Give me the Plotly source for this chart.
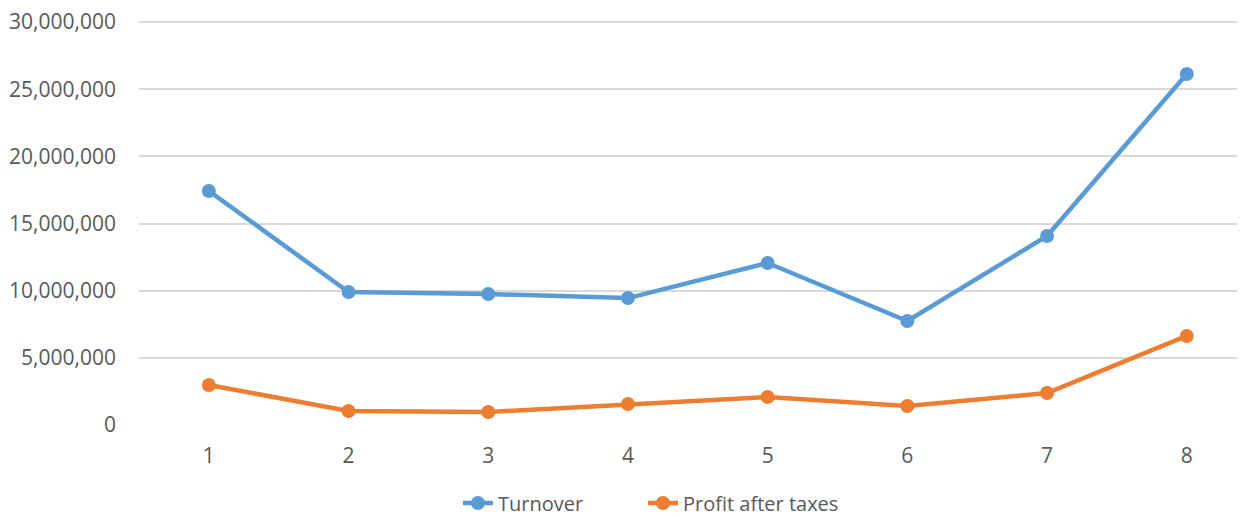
import plotly.graph_objects as go

periods = [1, 2, 3, 4, 5, 6, 7, 8]
turnover = [17420000, 9900000, 9750000, 9450000, 12060000, 7740000, 14070000, 26130000]
profit = [2980000, 1040000, 970000, 1560000, 2080000, 1410000, 2380000, 6630000]
y_ticks = [0, 5000000, 10000000, 15000000, 20000000, 25000000, 30000000]

FONT = "Open Sans"
TXT = "#595959"

fig = go.Figure()
fig.add_trace(go.Scatter(x=periods, y=turnover, name="Turnover", mode="lines+markers",
                         line=dict(color="#5B9BD5", width=4.5),
                         marker=dict(size=14, color="#5B9BD5"), legend="legend"))
fig.add_trace(go.Scatter(x=periods, y=profit, name="Profit after taxes", mode="lines+markers",
                         line=dict(color="#ED7D31", width=4.5),
                         marker=dict(size=14, color="#ED7D31"), legend="legend2"))

leg_common = dict(orientation="h", xanchor="left", y=-0.1926, yanchor="middle",
                  font=dict(family=FONT, size=20, color=TXT), bgcolor="rgba(0,0,0,0)")

fig.update_layout(
    width=1237, height=509,
    margin=dict(l=131, r=0, t=12, b=92, pad=0, autoexpand=False),
    paper_bgcolor="white", plot_bgcolor="white",
    font=dict(family=FONT, size=21, color=TXT),
    showlegend=True,
    legend=dict(x=0.2884, **leg_common),
    legend2=dict(x=0.4557, **leg_common),
    xaxis=dict(range=[0.5, 8.417], tickmode="array", tickvals=periods, automargin=False,
               ticktext=[str(p) for p in periods], showgrid=False, zeroline=False,
               showline=False, ticks="", ticklabelstandoff=16,
               tickfont=dict(family=FONT, size=21, color=TXT)),
    yaxis=dict(range=[0, 30150000], tickmode="array", tickvals=y_ticks, automargin=False,
               ticktext=[f"{v:,}" for v in y_ticks], showgrid=True, gridcolor="#D9D9D9",
               gridwidth=1.5, zeroline=False, showline=False, ticks="", ticklabelstandoff=22,
               ticklabeloverflow="allow",
               tickfont=dict(family=FONT, size=21, color=TXT)),
)

fig.write_html("out.html")
